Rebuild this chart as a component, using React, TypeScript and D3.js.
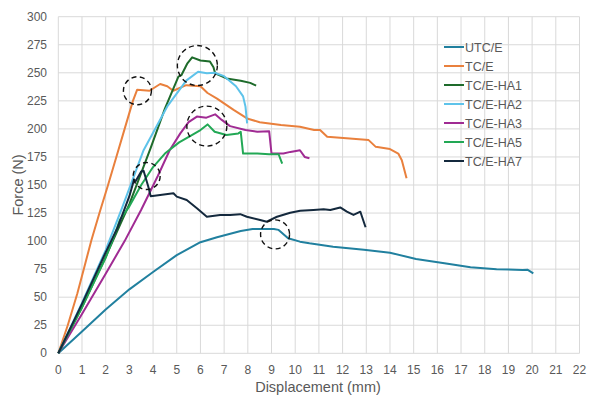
import { useEffect, useRef } from 'react'
import * as d3 from 'd3'

type Pt = [number, number]

// displacement (mm), force (N)
const utcE: Pt[] = [[0, 0], [1, 19.5], [2, 39], [3, 57], [4, 72.5], [5, 87.5], [6, 99], [6.7, 103.5], [7.7, 109], [8.2, 110.8], [9.1, 110.8], [9.3, 110], [9.7, 102.5], [10.2, 99.5], [10.6, 98], [11.6, 95], [12.9, 92.3], [14.0, 89.7], [15.1, 84], [16.3, 80.2], [17.4, 76.6], [18.5, 75], [19.6, 74.2], [19.8, 74.5], [20.05, 71.3]]
const tcE: Pt[] = [[0, 0], [0.4, 25], [0.8, 53], [1.1, 77], [1.4, 101], [1.75, 126], [2.1, 150], [2.45, 175], [2.8, 200], [3.15, 225], [3.33, 235], [3.85, 234], [4.3, 240], [4.6, 238], [4.85, 234], [5.4, 239], [6.0, 238], [6.3, 232], [6.7, 227], [7.4, 217], [8.0, 209], [8.5, 206], [9.4, 203.5], [10.2, 202], [10.8, 199], [11.05, 199], [11.35, 193], [12.3, 191.5], [13.1, 190], [13.4, 184], [14.0, 182], [14.35, 178], [14.5, 172], [14.7, 156]]
const ha1: Pt[] = [[0, 0], [1, 41], [2, 86], [3, 133], [3.9, 183], [4.5, 218], [5.07, 246.5], [5.2, 248], [5.45, 258.5], [5.65, 263.8], [6.0, 261], [6.4, 260], [6.55, 255], [6.62, 249.6], [7.1, 245], [7.7, 243], [8.1, 241], [8.35, 238.5]]
const ha2: Pt[] = [[0, 0], [1, 45], [2, 92], [2.7, 130], [3.6, 181], [4.6, 220], [5.4, 243], [5.9, 251], [6.27, 249.6], [6.6, 250], [7.0, 247], [7.5, 238], [7.8, 229], [7.9, 220], [7.97, 205]]
const ha3: Pt[] = [[0, 0], [1, 35], [2, 71], [2.8, 100], [3.5, 128], [4.2, 158], [4.7, 181], [5.15, 196], [5.5, 206], [5.85, 211], [6.25, 210], [6.62, 213], [6.9, 208], [7.25, 202.5], [7.9, 199], [8.4, 197.5], [8.9, 198], [9.0, 178], [9.5, 178], [9.8, 179.5], [10.2, 181], [10.4, 175], [10.6, 173.8]]
const ha5: Pt[] = [[0, 0], [1, 41], [2, 85], [2.4, 107], [2.6, 119], [3.0, 131], [3.5, 150], [4.0, 166], [4.5, 178], [5.1, 188], [5.6, 194], [6.0, 199], [6.3, 204], [6.6, 197.5], [7.1, 194.6], [7.6, 196], [7.7, 197.5], [7.8, 178], [8.4, 178], [8.9, 177.4], [9.3, 177.4], [9.45, 169]]
const ha7: Pt[] = [[0, 0], [1, 44], [2, 90], [2.5, 112], [3.0, 140], [3.2, 155], [3.25, 153], [3.5, 162], [3.6, 162.7], [3.8, 148.5], [3.9, 140], [4.3, 141], [4.86, 142.6], [5.0, 139.6], [5.42, 136.6], [5.85, 129.2], [6.27, 121.7], [6.83, 123.3], [7.25, 123.3], [7.68, 124], [7.96, 121.7], [8.52, 118.8], [8.8, 117.3], [9.23, 121.7], [9.79, 125.3], [10.21, 127], [10.77, 127.7], [11.2, 128.3], [11.48, 127.7], [11.9, 130], [12.18, 126.2], [12.46, 123.3], [12.75, 126.2], [12.97, 112.3]]

const seriesNames = ['UTC/E', 'TC/E', 'TC/E-HA1', 'TC/E-HA2', 'TC/E-HA3', 'TC/E-HA5', 'TC/E-HA7']
const seriesData = [utcE, tcE, ha1, ha2, ha3, ha5, ha7]
const seriesColors = ['#21809f', '#e9803d', '#1e6b2b', '#5ec3ea', '#a02b93', '#22a855', '#14293d']

// dashed markers: [x, y, radius px]
const markers: [number, number, number][] = [[3.34, 234, 14], [5.87, 256.5, 20], [6.27, 202.5, 20], [3.73, 158, 13.5], [9.15, 106, 14.5]]

const xTicks = d3.range(0, 23, 1)
const yTicks = d3.range(0, 301, 25)

export default function App() {
  const ref = useRef<SVGSVGElement>(null)
  useEffect(() => {
    const width = 589
    const height = 398
    const svg = d3.select(ref.current)
    svg.selectAll('*').remove()
    svg.attr('viewBox', `0 0 ${width} ${height}`)
    svg.append('rect').attr('width', width).attr('height', height).attr('fill', '#fff')

    const x = d3.scaleLinear().domain([0, 22]).range([58.3, 579.5])
    const y = d3.scaleLinear().domain([0, 300]).range([353.3, 16.7])
    const font = '"Liberation Sans", Arial, sans-serif'

    const grid = svg.append('g')
    xTicks.forEach(t => {
      grid.append('line')
        .attr('x1', x(t)).attr('x2', x(t)).attr('y1', y(0)).attr('y2', y(300))
        .attr('stroke', '#d9d9d9').attr('stroke-width', 1)
    })
    yTicks.forEach(t => {
      grid.append('line')
        .attr('x1', x(0)).attr('x2', x(22)).attr('y1', y(t)).attr('y2', y(t))
        .attr('stroke', '#d9d9d9').attr('stroke-width', 1)
    })

    // tick labels
    xTicks.forEach(t => {
      svg.append('text')
        .attr('x', x(t)).attr('y', 374)
        .attr('text-anchor', 'middle')
        .style('font-family', font).style('font-size', '12px').attr('fill', '#595959')
        .text(t)
    })
    yTicks.forEach(t => {
      svg.append('text')
        .attr('x', 47).attr('y', y(t) + 4)
        .attr('text-anchor', 'end')
        .style('font-family', font).style('font-size', '12px').attr('fill', '#595959')
        .text(t)
    })

    svg.append('text')
      .attr('x', 318).attr('y', 392)
      .attr('text-anchor', 'middle')
      .style('font-family', font).style('font-size', '14.5px').attr('fill', '#595959')
      .text('Displacement (mm)')
    svg.append('text')
      .attr('transform', `translate(23,${(y(0) + y(300)) / 2}) rotate(-90)`)
      .attr('text-anchor', 'middle')
      .style('font-family', font).style('font-size', '14.5px').attr('fill', '#595959')
      .text('Force (N)')

    // curves
    const line = d3.line<Pt>().x(d => x(d[0])).y(d => y(d[1]))
    seriesData.forEach((data, i) => {
      svg.append('path')
        .attr('d', line(data))
        .attr('fill', 'none')
        .attr('stroke', seriesColors[i])
        .attr('stroke-width', 2)
        .attr('stroke-linejoin', 'round')
    })

    // dashed circles
    markers.forEach(([mx, my, r]) => {
      svg.append('circle')
        .attr('cx', x(mx)).attr('cy', y(my)).attr('r', r)
        .attr('fill', 'none').attr('stroke', '#111')
        .attr('stroke-width', 1.4).attr('stroke-dasharray', '5,3.5')
    })

    // legend
    const lg = svg.append('g').attr('transform', 'translate(444,47)')
    seriesNames.forEach((name, i) => {
      const row = lg.append('g').attr('transform', `translate(0,${i * 19})`)
      row.append('line').attr('x1', 0).attr('x2', 20).attr('y1', 0).attr('y2', 0)
        .attr('stroke', seriesColors[i]).attr('stroke-width', 2)
      row.append('text').attr('x', 21).attr('y', 4.5)
        .style('font-family', font).style('font-size', '12.5px').attr('fill', '#595959')
        .text(name)
    })
  }, [])

  return (
    <svg
      ref={ref}
      width={589}
      height={398}
      style={{ position: 'absolute', left: 0, top: 0, display: 'block' }}
    />
  )
}
